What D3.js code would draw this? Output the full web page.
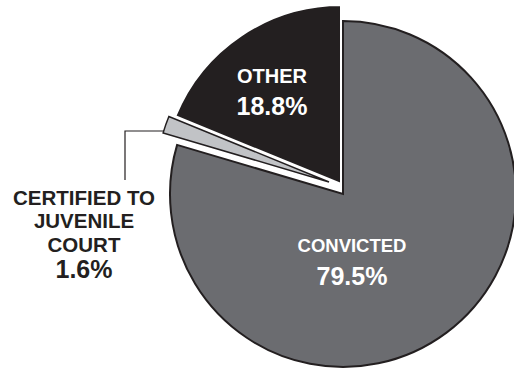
<!DOCTYPE html>
<html>
<head>
<meta charset="utf-8">
<script src="https://cdn.jsdelivr.net/npm/d3@7"></script>
<style>
html,body{margin:0;padding:0;background:#fff;}
svg{display:block;}
text{font-family:"Liberation Sans",Arial,Helvetica,sans-serif;font-weight:bold;}
</style>
</head>
<body>
<svg id="chart" width="514" height="370"></svg>
<script>
// ---- data ----
const categories = ["CONVICTED", "CERTIFIED TO JUVENILE COURT", "OTHER"];
const values = [79.5, 1.6, 18.8];
const valueLabels = ["79.5%", "1.6%", "18.8%"];

// ---- layout / style ----
const W = 514, H = 370;
const cx = 343, cy = 194;
const fills = ["#6b6c70", "#c1c3c6", "#231f20"];
const strokes = ["#231f20", "#231f20", "#ffffff"];
const strokeW = [2, 1.5, 2];
const radii = [173, 173, 179];
const explode = [[0, 0], [-14, -12], [-2, -10]];

const svg = d3.select("#chart");
const pie = d3.pie().sort(null).value(d => d).startAngle(0).endAngle(2 * Math.PI);
const arcs = pie(values);

const g = svg.append("g").attr("transform", `translate(${cx},${cy})`);

g.selectAll("path.slice")
  .data(arcs)
  .join("path")
  .attr("class", "slice")
  .attr("transform", (d, i) => `translate(${explode[i][0]},${explode[i][1]})`)
  .attr("d", (d, i) => d3.arc().innerRadius(0).outerRadius(radii[i])(d))
  .attr("fill", (d, i) => fills[i])
  .attr("stroke", (d, i) => strokes[i])
  .attr("stroke-width", (d, i) => strokeW[i])
  .attr("stroke-linejoin", "miter");

// leader line for certified slice
svg.append("polyline")
  .attr("points", "164,131 125,131 125,180")
  .attr("fill", "none")
  .attr("stroke", "#231f20")
  .attr("stroke-width", 1.2);

// labels
function label(x, lines, color) {
  const t = svg.append("text").attr("text-anchor", "middle").attr("fill", color);
  lines.forEach(l => {
    t.append("tspan").attr("x", x).attr("y", l.y).attr("font-size", l.size).text(l.text);
  });
}
label(272, [
  {text: categories[2], y: 83, size: 20},
  {text: valueLabels[2], y: 115, size: 25}
], "#ffffff");
label(352, [
  {text: categories[0], y: 252, size: 18.5},
  {text: valueLabels[0], y: 285, size: 25}
], "#ffffff");
label(84, [
  {text: "CERTIFIED TO", y: 205, size: 20.5},
  {text: "JUVENILE", y: 228, size: 20.5},
  {text: "COURT", y: 252, size: 20.5},
  {text: valueLabels[1], y: 278, size: 25}
], "#231f20");
</script>
</body>
</html>
